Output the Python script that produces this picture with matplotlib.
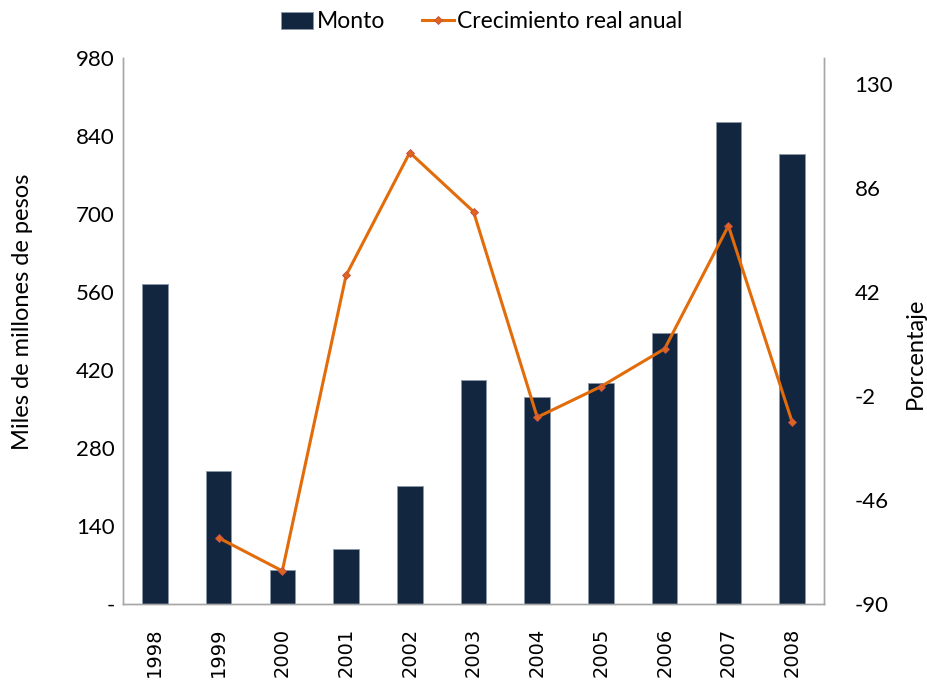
import matplotlib.pyplot as plt
import numpy as np

plt.rcParams['font.family'] = ['Lato', 'DejaVu Sans']

years = ['1998', '1999', '2000', '2001', '2002', '2003', '2004', '2005', '2006', '2007', '2008']
monto = [574, 239, 61, 99, 212, 402, 372, 397, 487, 865, 808]
# growth has no value for the first year
crecimiento = [np.nan, -62, -76, 49, 101, 76, -11, 2, 18, 70, -13]

left_ticks = [0, 140, 280, 420, 560, 700, 840, 980]
left_labels = ['-', '140', '280', '420', '560', '700', '840', '980']
right_ticks = [-90, -46, -2, 42, 86, 130]

bar_color = '#12263f'
line_color = '#e36c0a'

fig = plt.figure(figsize=(9.27, 6.83), dpi=100)
ax = fig.add_axes([123 / 927, 1 - 604 / 683, (824 - 123) / 927, (604 - 58) / 683])
ax2 = ax.twinx()

x = np.arange(len(years))
bars = ax.bar(x, monto, width=0.4, color=bar_color, edgecolor='#8a97a8', linewidth=0.6,
              label='Monto', zorder=2)
line, = ax2.plot(x, crecimiento, color=line_color, linewidth=2.2, marker='D', markersize=4,
                 markerfacecolor='#e0651a', markeredgecolor='#c0504d', markeredgewidth=0.6,
                 label='Crecimiento real anual', zorder=3)

ax.set_xlim(-0.5, len(years) - 0.5)
ax.set_ylim(0, 980)
ax.set_yticks(left_ticks)
ax.set_yticklabels(left_labels, fontsize=16)
ax2.set_ylim(-90, 141)
ax2.set_yticks(right_ticks)
ax2.set_yticklabels([str(t) for t in right_ticks], fontsize=16)

ax.set_xticks(x)
ax.set_xticklabels(years, rotation=90, fontsize=14, family=['DejaVu Sans'])
ax.tick_params(axis='x', length=0, pad=17)
ax.tick_params(axis='y', length=0, pad=6)
ax2.tick_params(axis='y', length=0, pad=22)

ax.set_ylabel('Miles de millones de pesos', fontsize=17)
ax.yaxis.set_label_coords(-0.128, 0.535)
ax2.set_ylabel('Porcentaje', fontsize=17)
ax2.yaxis.set_label_coords(1.115, 0.46)

for a in (ax, ax2):
    a.spines['top'].set_visible(False)
    for s in ('left', 'right', 'bottom'):
        a.spines[s].set_color('#a6a6a6')
        a.spines[s].set_linewidth(1.0)

ax.set_zorder(ax2.get_zorder() - 1)
ax2.patch.set_visible(False)

fig.legend([bars, line], ['Monto', 'Crecimiento real anual'], loc='center',
           bbox_to_anchor=(0.52, 1 - 22 / 683), ncol=2, frameon=False, fontsize=16.5,
           handlelength=1.4, handletextpad=0.15, columnspacing=1.6)

fig.savefig('out.png', dpi=100)
